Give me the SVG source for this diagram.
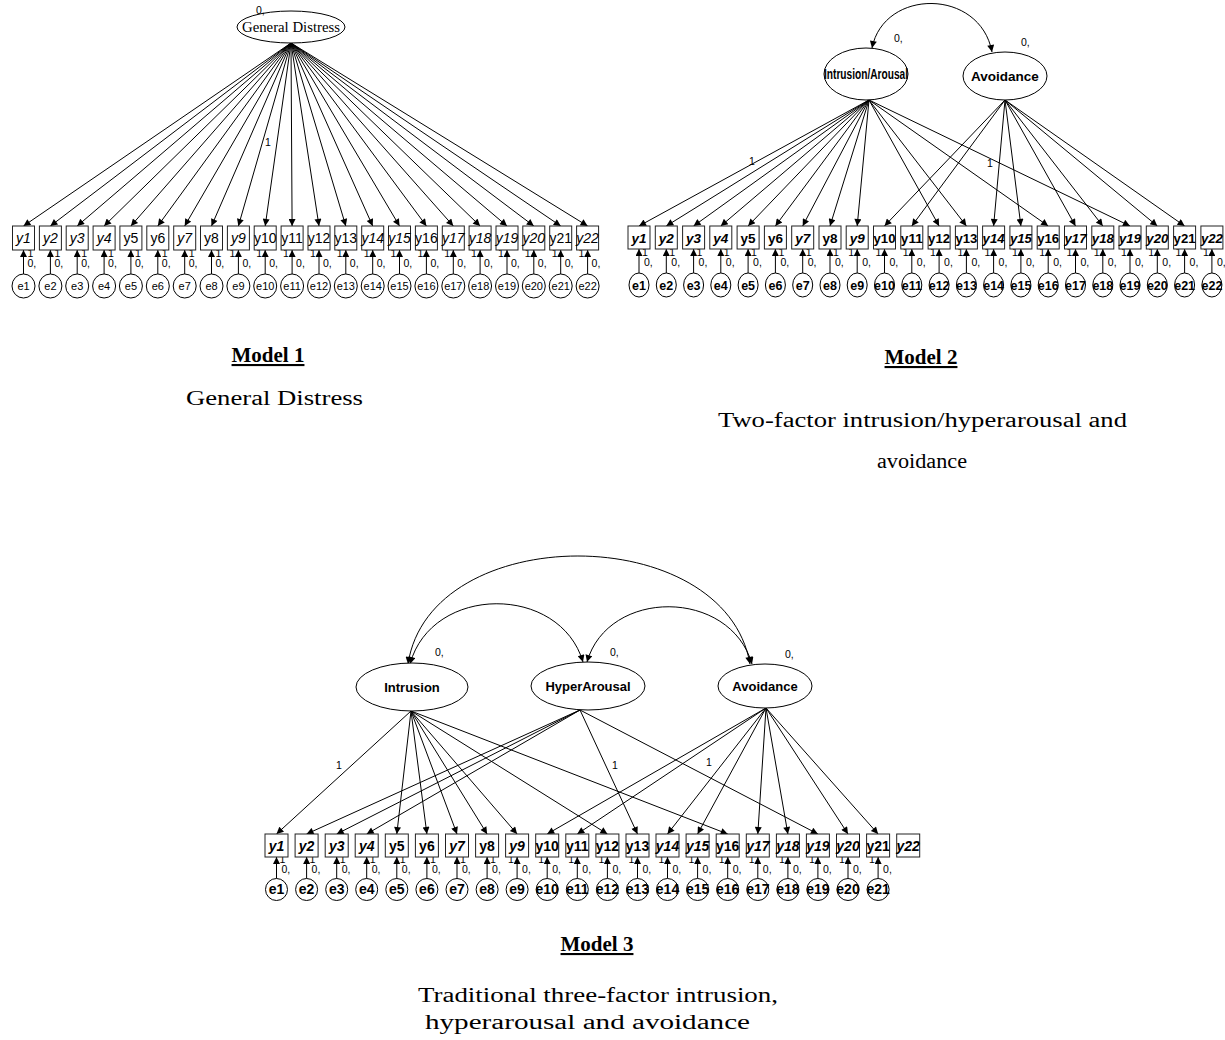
<svg xmlns="http://www.w3.org/2000/svg" width="1225" height="1040" viewBox="0 0 1225 1040">
<defs>
<marker id="ah" viewBox="0 0 10 10" refX="10" refY="5" markerWidth="9" markerHeight="7" orient="auto-start-reverse" markerUnits="userSpaceOnUse"><path d="M0,0 L10,5 L0,10 z" fill="#000"/></marker>
<style>
.bx{fill:#fff;stroke:#222;stroke-width:1}
.el{fill:#fff;stroke:#000;stroke-width:1}
.c{stroke:#000;stroke-width:1;fill:none;marker-end:url(#ah)}
.cc{stroke:#000;stroke-width:1;fill:none;marker-end:url(#ah);marker-start:url(#ah)}
text{font-family:"Liberation Sans",Arial,sans-serif;fill:#000}
.m1 text{font-size:14px;text-anchor:middle}
.m1e text{font-size:11px;text-anchor:middle}
.m2 text{font-size:13.5px;font-weight:bold;text-anchor:middle}
.m2 .ee{font-size:12.5px}
.m3 text{font-size:14px;font-weight:bold;text-anchor:middle}
.it{font-style:italic}
.s{font-size:10.5px}
.lt{font-size:13px;font-weight:bold;text-anchor:middle}
.cap{font-family:"Liberation Serif","Times New Roman",serif;font-size:20px}
.ttl{font-family:"Liberation Serif","Times New Roman",serif;font-size:21px;font-weight:bold;text-decoration:underline;text-anchor:middle}
</style>
</defs>
<rect width="1225" height="1040" fill="#fff"/>

<!-- ================= MODEL 1 ================= -->
<g id="m1-connectors">
<line class="c" x1="291" y1="43" x2="23.5" y2="226"/>
<line class="c" x1="291" y1="43" x2="50.4" y2="226"/>
<line class="c" x1="291" y1="43" x2="77.2" y2="226"/>
<line class="c" x1="291" y1="43" x2="104.1" y2="226"/>
<line class="c" x1="291" y1="43" x2="130.9" y2="226"/>
<line class="c" x1="291" y1="43" x2="157.8" y2="226"/>
<line class="c" x1="291" y1="43" x2="184.7" y2="226"/>
<line class="c" x1="291" y1="43" x2="211.5" y2="226"/>
<line class="c" x1="291" y1="43" x2="238.4" y2="226"/>
<line class="c" x1="291" y1="43" x2="265.2" y2="226"/>
<line class="c" x1="291" y1="43" x2="292.1" y2="226"/>
<line class="c" x1="291" y1="43" x2="319" y2="226"/>
<line class="c" x1="291" y1="43" x2="345.8" y2="226"/>
<line class="c" x1="291" y1="43" x2="372.7" y2="226"/>
<line class="c" x1="291" y1="43" x2="399.5" y2="226"/>
<line class="c" x1="291" y1="43" x2="426.4" y2="226"/>
<line class="c" x1="291" y1="43" x2="453.3" y2="226"/>
<line class="c" x1="291" y1="43" x2="480.1" y2="226"/>
<line class="c" x1="291" y1="43" x2="507" y2="226"/>
<line class="c" x1="291" y1="43" x2="533.8" y2="226"/>
<line class="c" x1="291" y1="43" x2="560.7" y2="226"/>
<line class="c" x1="291" y1="43" x2="587.6" y2="226"/>
<text class="s" x="265" y="146">1</text>
<!-- error paths -->
<line class="c" x1="23.5" y1="274" x2="23.5" y2="250"/>
<line class="c" x1="50.4" y1="274" x2="50.4" y2="250"/>
<line class="c" x1="77.2" y1="274" x2="77.2" y2="250"/>
<line class="c" x1="104.1" y1="274" x2="104.1" y2="250"/>
<line class="c" x1="130.9" y1="274" x2="130.9" y2="250"/>
<line class="c" x1="157.8" y1="274" x2="157.8" y2="250"/>
<line class="c" x1="184.7" y1="274" x2="184.7" y2="250"/>
<line class="c" x1="211.5" y1="274" x2="211.5" y2="250"/>
<line class="c" x1="238.4" y1="274" x2="238.4" y2="250"/>
<line class="c" x1="265.2" y1="274" x2="265.2" y2="250"/>
<line class="c" x1="292.1" y1="274" x2="292.1" y2="250"/>
<line class="c" x1="319" y1="274" x2="319" y2="250"/>
<line class="c" x1="345.8" y1="274" x2="345.8" y2="250"/>
<line class="c" x1="372.7" y1="274" x2="372.7" y2="250"/>
<line class="c" x1="399.5" y1="274" x2="399.5" y2="250"/>
<line class="c" x1="426.4" y1="274" x2="426.4" y2="250"/>
<line class="c" x1="453.3" y1="274" x2="453.3" y2="250"/>
<line class="c" x1="480.1" y1="274" x2="480.1" y2="250"/>
<line class="c" x1="507" y1="274" x2="507" y2="250"/>
<line class="c" x1="533.8" y1="274" x2="533.8" y2="250"/>
<line class="c" x1="560.7" y1="274" x2="560.7" y2="250"/>
<line class="c" x1="587.6" y1="274" x2="587.6" y2="250"/>
<g class="s">
<text x="27.5" y="257">1</text><text x="54.4" y="257">1</text><text x="81.2" y="257">1</text><text x="108.1" y="257">1</text><text x="134.9" y="257">1</text><text x="161.8" y="257">1</text><text x="188.7" y="257">1</text><text x="215.5" y="257">1</text>
<text x="229.4" y="257">1</text><text x="256.2" y="257">1</text><text x="283.1" y="257">1</text><text x="310" y="257">1</text><text x="336.8" y="257">1</text><text x="363.7" y="257">1</text><text x="390.5" y="257">1</text><text x="417.4" y="257">1</text><text x="444.3" y="257">1</text><text x="471.1" y="257">1</text><text x="498" y="257">1</text><text x="524.8" y="257">1</text><text x="551.7" y="257">1</text><text x="578.6" y="257">1</text>
<text x="27.5" y="267">0,</text><text x="54.4" y="267">0,</text><text x="81.2" y="267">0,</text><text x="108.1" y="267">0,</text><text x="134.9" y="267">0,</text><text x="161.8" y="267">0,</text><text x="188.7" y="267">0,</text><text x="215.5" y="267">0,</text><text x="242.4" y="267">0,</text><text x="269.2" y="267">0,</text><text x="296.1" y="267">0,</text><text x="323" y="267">0,</text><text x="349.8" y="267">0,</text><text x="376.7" y="267">0,</text><text x="403.5" y="267">0,</text><text x="430.4" y="267">0,</text><text x="457.3" y="267">0,</text><text x="484.1" y="267">0,</text><text x="511" y="267">0,</text><text x="537.8" y="267">0,</text><text x="564.7" y="267">0,</text><text x="591.6" y="267">0,</text>
</g>
</g>

<g id="m1-general-distress">
<ellipse class="el" cx="291" cy="27" rx="54" ry="16"/>
<text x="291" y="32" style="font-family:'Liberation Serif','Times New Roman',serif;font-size:14px;text-anchor:middle" textLength="98" lengthAdjust="spacingAndGlyphs">General Distress</text>
<text class="s" x="256" y="14">0,</text>
</g>

<g class="m1">
<g id="m1-y1" transform="translate(23.5,226)"><rect class="bx" x="-11" width="22" height="24"/><text class="it" y="17">y1</text></g>
<g id="m1-y2" transform="translate(50.4,226)"><rect class="bx" x="-11" width="22" height="24"/><text class="it" y="17">y2</text></g>
<g id="m1-y3" transform="translate(77.2,226)"><rect class="bx" x="-11" width="22" height="24"/><text class="it" y="17">y3</text></g>
<g id="m1-y4" transform="translate(104.1,226)"><rect class="bx" x="-11" width="22" height="24"/><text class="it" y="17">y4</text></g>
<g id="m1-y5" transform="translate(130.9,226)"><rect class="bx" x="-11" width="22" height="24"/><text y="17">y5</text></g>
<g id="m1-y6" transform="translate(157.8,226)"><rect class="bx" x="-11" width="22" height="24"/><text y="17">y6</text></g>
<g id="m1-y7" transform="translate(184.7,226)"><rect class="bx" x="-11" width="22" height="24"/><text class="it" y="17">y7</text></g>
<g id="m1-y8" transform="translate(211.5,226)"><rect class="bx" x="-11" width="22" height="24"/><text y="17">y8</text></g>
<g id="m1-y9" transform="translate(238.4,226)"><rect class="bx" x="-11" width="22" height="24"/><text class="it" y="17">y9</text></g>
<g id="m1-y10" transform="translate(265.2,226)"><rect class="bx" x="-11" width="22" height="24"/><text y="17">y10</text></g>
<g id="m1-y11" transform="translate(292.1,226)"><rect class="bx" x="-11" width="22" height="24"/><text y="17">y11</text></g>
<g id="m1-y12" transform="translate(319,226)"><rect class="bx" x="-11" width="22" height="24"/><text y="17">y12</text></g>
<g id="m1-y13" transform="translate(345.8,226)"><rect class="bx" x="-11" width="22" height="24"/><text y="17">y13</text></g>
<g id="m1-y14" transform="translate(372.7,226)"><rect class="bx" x="-11" width="22" height="24"/><text class="it" y="17">y14</text></g>
<g id="m1-y15" transform="translate(399.5,226)"><rect class="bx" x="-11" width="22" height="24"/><text class="it" y="17">y15</text></g>
<g id="m1-y16" transform="translate(426.4,226)"><rect class="bx" x="-11" width="22" height="24"/><text y="17">y16</text></g>
<g id="m1-y17" transform="translate(453.3,226)"><rect class="bx" x="-11" width="22" height="24"/><text class="it" y="17">y17</text></g>
<g id="m1-y18" transform="translate(480.1,226)"><rect class="bx" x="-11" width="22" height="24"/><text class="it" y="17">y18</text></g>
<g id="m1-y19" transform="translate(507,226)"><rect class="bx" x="-11" width="22" height="24"/><text class="it" y="17">y19</text></g>
<g id="m1-y20" transform="translate(533.8,226)"><rect class="bx" x="-11" width="22" height="24"/><text class="it" y="17">y20</text></g>
<g id="m1-y21" transform="translate(560.7,226)"><rect class="bx" x="-11" width="22" height="24"/><text y="17">y21</text></g>
<g id="m1-y22" transform="translate(587.6,226)"><rect class="bx" x="-11" width="22" height="24"/><text class="it" y="17">y22</text></g>
</g>
<g class="m1e">
<g id="m1-e1" transform="translate(23.5,286)"><ellipse class="el" rx="11.5" ry="12"/><text y="4">e1</text></g>
<g id="m1-e2" transform="translate(50.4,286)"><ellipse class="el" rx="11.5" ry="12"/><text y="4">e2</text></g>
<g id="m1-e3" transform="translate(77.2,286)"><ellipse class="el" rx="11.5" ry="12"/><text y="4">e3</text></g>
<g id="m1-e4" transform="translate(104.1,286)"><ellipse class="el" rx="11.5" ry="12"/><text y="4">e4</text></g>
<g id="m1-e5" transform="translate(130.9,286)"><ellipse class="el" rx="11.5" ry="12"/><text y="4">e5</text></g>
<g id="m1-e6" transform="translate(157.8,286)"><ellipse class="el" rx="11.5" ry="12"/><text y="4">e6</text></g>
<g id="m1-e7" transform="translate(184.7,286)"><ellipse class="el" rx="11.5" ry="12"/><text y="4">e7</text></g>
<g id="m1-e8" transform="translate(211.5,286)"><ellipse class="el" rx="11.5" ry="12"/><text y="4">e8</text></g>
<g id="m1-e9" transform="translate(238.4,286)"><ellipse class="el" rx="11.5" ry="12"/><text y="4">e9</text></g>
<g id="m1-e10" transform="translate(265.2,286)"><ellipse class="el" rx="11.5" ry="12"/><text y="4">e10</text></g>
<g id="m1-e11" transform="translate(292.1,286)"><ellipse class="el" rx="11.5" ry="12"/><text y="4">e11</text></g>
<g id="m1-e12" transform="translate(319,286)"><ellipse class="el" rx="11.5" ry="12"/><text y="4">e12</text></g>
<g id="m1-e13" transform="translate(345.8,286)"><ellipse class="el" rx="11.5" ry="12"/><text y="4">e13</text></g>
<g id="m1-e14" transform="translate(372.7,286)"><ellipse class="el" rx="11.5" ry="12"/><text y="4">e14</text></g>
<g id="m1-e15" transform="translate(399.5,286)"><ellipse class="el" rx="11.5" ry="12"/><text y="4">e15</text></g>
<g id="m1-e16" transform="translate(426.4,286)"><ellipse class="el" rx="11.5" ry="12"/><text y="4">e16</text></g>
<g id="m1-e17" transform="translate(453.3,286)"><ellipse class="el" rx="11.5" ry="12"/><text y="4">e17</text></g>
<g id="m1-e18" transform="translate(480.1,286)"><ellipse class="el" rx="11.5" ry="12"/><text y="4">e18</text></g>
<g id="m1-e19" transform="translate(507,286)"><ellipse class="el" rx="11.5" ry="12"/><text y="4">e19</text></g>
<g id="m1-e20" transform="translate(533.8,286)"><ellipse class="el" rx="11.5" ry="12"/><text y="4">e20</text></g>
<g id="m1-e21" transform="translate(560.7,286)"><ellipse class="el" rx="11.5" ry="12"/><text y="4">e21</text></g>
<g id="m1-e22" transform="translate(587.6,286)"><ellipse class="el" rx="11.5" ry="12"/><text y="4">e22</text></g>
</g>

<!-- ================= MODEL 2 ================= -->
<g id="m2-connectors">
<path class="cc" d="M872,48 C884,-12 980,-12 992,52"/>
<line class="c" x1="869" y1="100" x2="639" y2="226"/>
<line class="c" x1="869" y1="100" x2="666.3" y2="226"/>
<line class="c" x1="869" y1="100" x2="693.6" y2="226"/>
<line class="c" x1="869" y1="100" x2="720.8" y2="226"/>
<line class="c" x1="869" y1="100" x2="748.1" y2="226"/>
<line class="c" x1="869" y1="100" x2="775.4" y2="226"/>
<line class="c" x1="869" y1="100" x2="802.7" y2="226"/>
<line class="c" x1="869" y1="100" x2="830" y2="226"/>
<line class="c" x1="869" y1="100" x2="857.2" y2="226"/>
<line class="c" x1="869" y1="100" x2="939.1" y2="226"/>
<line class="c" x1="869" y1="100" x2="966.4" y2="226"/>
<line class="c" x1="869" y1="100" x2="1048.2" y2="226"/>
<line class="c" x1="869" y1="100" x2="1130" y2="226"/>
<line class="c" x1="1005" y1="100" x2="884.5" y2="226"/>
<line class="c" x1="1005" y1="100" x2="911.8" y2="226"/>
<line class="c" x1="1005" y1="100" x2="993.6" y2="226"/>
<line class="c" x1="1005" y1="100" x2="1020.9" y2="226"/>
<line class="c" x1="1005" y1="100" x2="1075.5" y2="226"/>
<line class="c" x1="1005" y1="100" x2="1102.8" y2="226"/>
<line class="c" x1="1005" y1="100" x2="1157.3" y2="226"/>
<line class="c" x1="1005" y1="100" x2="1184.6" y2="226"/>
<text class="s" x="749" y="165">1</text>
<text class="s" x="987" y="167">1</text>
<line class="c" x1="639" y1="273" x2="639" y2="249"/>
<line class="c" x1="666.3" y1="273" x2="666.3" y2="249"/>
<line class="c" x1="693.6" y1="273" x2="693.6" y2="249"/>
<line class="c" x1="720.8" y1="273" x2="720.8" y2="249"/>
<line class="c" x1="748.1" y1="273" x2="748.1" y2="249"/>
<line class="c" x1="775.4" y1="273" x2="775.4" y2="249"/>
<line class="c" x1="802.7" y1="273" x2="802.7" y2="249"/>
<line class="c" x1="830" y1="273" x2="830" y2="249"/>
<line class="c" x1="857.2" y1="273" x2="857.2" y2="249"/>
<line class="c" x1="884.5" y1="273" x2="884.5" y2="249"/>
<line class="c" x1="911.8" y1="273" x2="911.8" y2="249"/>
<line class="c" x1="939.1" y1="273" x2="939.1" y2="249"/>
<line class="c" x1="966.4" y1="273" x2="966.4" y2="249"/>
<line class="c" x1="993.6" y1="273" x2="993.6" y2="249"/>
<line class="c" x1="1020.9" y1="273" x2="1020.9" y2="249"/>
<line class="c" x1="1048.2" y1="273" x2="1048.2" y2="249"/>
<line class="c" x1="1075.5" y1="273" x2="1075.5" y2="249"/>
<line class="c" x1="1102.8" y1="273" x2="1102.8" y2="249"/>
<line class="c" x1="1130" y1="273" x2="1130" y2="249"/>
<line class="c" x1="1157.3" y1="273" x2="1157.3" y2="249"/>
<line class="c" x1="1184.6" y1="273" x2="1184.6" y2="249"/>
<line class="c" x1="1211.9" y1="273" x2="1211.9" y2="249"/>
<g class="s">
<text x="642" y="256">1</text><text x="669.3" y="256">1</text><text x="696.6" y="256">1</text><text x="723.8" y="256">1</text><text x="751.1" y="256">1</text><text x="778.4" y="256">1</text><text x="805.7" y="256">1</text><text x="833" y="256">1</text>
<text x="848.2" y="256">1</text><text x="875.5" y="256">1</text><text x="902.8" y="256">1</text><text x="930.1" y="256">1</text><text x="957.4" y="256">1</text><text x="984.6" y="256">1</text><text x="1011.9" y="256">1</text><text x="1039.2" y="256">1</text><text x="1066.5" y="256">1</text><text x="1093.8" y="256">1</text><text x="1121" y="256">1</text><text x="1148.3" y="256">1</text><text x="1175.6" y="256">1</text><text x="1202.9" y="256">1</text>
<text x="644" y="266">0,</text><text x="671.3" y="266">0,</text><text x="698.6" y="266">0,</text><text x="725.8" y="266">0,</text><text x="753.1" y="266">0,</text><text x="780.4" y="266">0,</text><text x="807.7" y="266">0,</text><text x="835" y="266">0,</text><text x="862.2" y="266">0,</text><text x="889.5" y="266">0,</text><text x="916.8" y="266">0,</text><text x="944.1" y="266">0,</text><text x="971.4" y="266">0,</text><text x="998.6" y="266">0,</text><text x="1025.9" y="266">0,</text><text x="1053.2" y="266">0,</text><text x="1080.5" y="266">0,</text><text x="1107.8" y="266">0,</text><text x="1135" y="266">0,</text><text x="1162.3" y="266">0,</text><text x="1189.6" y="266">0,</text><text x="1216.9" y="266">0,</text>
</g>
</g>

<g id="m2-intrusion-arousal">
<ellipse class="el" cx="866" cy="74" rx="42" ry="26"/>
<text class="lt" x="866" y="79" style="font-size:14px" textLength="84" lengthAdjust="spacingAndGlyphs">Intrusion/Arousal</text>
<text class="s" x="894" y="42">0,</text>
</g>
<g id="m2-avoidance">
<ellipse class="el" cx="1005" cy="76" rx="42" ry="24"/>
<text class="lt" x="1005" y="81" style="font-size:13.5px">Avoidance</text>
<text class="s" x="1021" y="46">0,</text>
</g>

<g class="m2">
<g id="m2-y1" transform="translate(639,226)"><rect class="bx" x="-11" width="22" height="23"/><text class="it" y="17">y1</text></g>
<g id="m2-y2" transform="translate(666.3,226)"><rect class="bx" x="-11" width="22" height="23"/><text class="it" y="17">y2</text></g>
<g id="m2-y3" transform="translate(693.6,226)"><rect class="bx" x="-11" width="22" height="23"/><text class="it" y="17">y3</text></g>
<g id="m2-y4" transform="translate(720.8,226)"><rect class="bx" x="-11" width="22" height="23"/><text class="it" y="17">y4</text></g>
<g id="m2-y5" transform="translate(748.1,226)"><rect class="bx" x="-11" width="22" height="23"/><text y="17">y5</text></g>
<g id="m2-y6" transform="translate(775.4,226)"><rect class="bx" x="-11" width="22" height="23"/><text y="17">y6</text></g>
<g id="m2-y7" transform="translate(802.7,226)"><rect class="bx" x="-11" width="22" height="23"/><text class="it" y="17">y7</text></g>
<g id="m2-y8" transform="translate(830,226)"><rect class="bx" x="-11" width="22" height="23"/><text y="17">y8</text></g>
<g id="m2-y9" transform="translate(857.2,226)"><rect class="bx" x="-11" width="22" height="23"/><text class="it" y="17">y9</text></g>
<g id="m2-y10" transform="translate(884.5,226)"><rect class="bx" x="-11" width="22" height="23"/><text y="17" textLength="22" lengthAdjust="spacingAndGlyphs">y10</text></g>
<g id="m2-y11" transform="translate(911.8,226)"><rect class="bx" x="-11" width="22" height="23"/><text y="17" textLength="22" lengthAdjust="spacingAndGlyphs">y11</text></g>
<g id="m2-y12" transform="translate(939.1,226)"><rect class="bx" x="-11" width="22" height="23"/><text y="17" textLength="22" lengthAdjust="spacingAndGlyphs">y12</text></g>
<g id="m2-y13" transform="translate(966.4,226)"><rect class="bx" x="-11" width="22" height="23"/><text y="17" textLength="22" lengthAdjust="spacingAndGlyphs">y13</text></g>
<g id="m2-y14" transform="translate(993.6,226)"><rect class="bx" x="-11" width="22" height="23"/><text class="it" y="17" textLength="22" lengthAdjust="spacingAndGlyphs">y14</text></g>
<g id="m2-y15" transform="translate(1020.9,226)"><rect class="bx" x="-11" width="22" height="23"/><text class="it" y="17" textLength="22" lengthAdjust="spacingAndGlyphs">y15</text></g>
<g id="m2-y16" transform="translate(1048.2,226)"><rect class="bx" x="-11" width="22" height="23"/><text y="17" textLength="22" lengthAdjust="spacingAndGlyphs">y16</text></g>
<g id="m2-y17" transform="translate(1075.5,226)"><rect class="bx" x="-11" width="22" height="23"/><text class="it" y="17" textLength="22" lengthAdjust="spacingAndGlyphs">y17</text></g>
<g id="m2-y18" transform="translate(1102.8,226)"><rect class="bx" x="-11" width="22" height="23"/><text class="it" y="17" textLength="22" lengthAdjust="spacingAndGlyphs">y18</text></g>
<g id="m2-y19" transform="translate(1130,226)"><rect class="bx" x="-11" width="22" height="23"/><text class="it" y="17" textLength="22" lengthAdjust="spacingAndGlyphs">y19</text></g>
<g id="m2-y20" transform="translate(1157.3,226)"><rect class="bx" x="-11" width="22" height="23"/><text class="it" y="17" textLength="22" lengthAdjust="spacingAndGlyphs">y20</text></g>
<g id="m2-y21" transform="translate(1184.6,226)"><rect class="bx" x="-11" width="22" height="23"/><text y="17" textLength="22" lengthAdjust="spacingAndGlyphs">y21</text></g>
<g id="m2-y22" transform="translate(1211.9,226)"><rect class="bx" x="-11" width="22" height="23"/><text class="it" y="17" textLength="22" lengthAdjust="spacingAndGlyphs">y22</text></g>
<g id="m2-e1" transform="translate(639,285)"><ellipse class="el" rx="10" ry="12"/><text class="ee" y="4.5">e1</text></g>
<g id="m2-e2" transform="translate(666.3,285)"><ellipse class="el" rx="10" ry="12"/><text class="ee" y="4.5">e2</text></g>
<g id="m2-e3" transform="translate(693.6,285)"><ellipse class="el" rx="10" ry="12"/><text class="ee" y="4.5">e3</text></g>
<g id="m2-e4" transform="translate(720.8,285)"><ellipse class="el" rx="10" ry="12"/><text class="ee" y="4.5">e4</text></g>
<g id="m2-e5" transform="translate(748.1,285)"><ellipse class="el" rx="10" ry="12"/><text class="ee" y="4.5">e5</text></g>
<g id="m2-e6" transform="translate(775.4,285)"><ellipse class="el" rx="10" ry="12"/><text class="ee" y="4.5">e6</text></g>
<g id="m2-e7" transform="translate(802.7,285)"><ellipse class="el" rx="10" ry="12"/><text class="ee" y="4.5">e7</text></g>
<g id="m2-e8" transform="translate(830,285)"><ellipse class="el" rx="10" ry="12"/><text class="ee" y="4.5">e8</text></g>
<g id="m2-e9" transform="translate(857.2,285)"><ellipse class="el" rx="10" ry="12"/><text class="ee" y="4.5">e9</text></g>
<g id="m2-e10" transform="translate(884.5,285)"><ellipse class="el" rx="10" ry="12"/><text class="ee" y="4.5">e10</text></g>
<g id="m2-e11" transform="translate(911.8,285)"><ellipse class="el" rx="10" ry="12"/><text class="ee" y="4.5">e11</text></g>
<g id="m2-e12" transform="translate(939.1,285)"><ellipse class="el" rx="10" ry="12"/><text class="ee" y="4.5">e12</text></g>
<g id="m2-e13" transform="translate(966.4,285)"><ellipse class="el" rx="10" ry="12"/><text class="ee" y="4.5">e13</text></g>
<g id="m2-e14" transform="translate(993.6,285)"><ellipse class="el" rx="10" ry="12"/><text class="ee" y="4.5">e14</text></g>
<g id="m2-e15" transform="translate(1020.9,285)"><ellipse class="el" rx="10" ry="12"/><text class="ee" y="4.5">e15</text></g>
<g id="m2-e16" transform="translate(1048.2,285)"><ellipse class="el" rx="10" ry="12"/><text class="ee" y="4.5">e16</text></g>
<g id="m2-e17" transform="translate(1075.5,285)"><ellipse class="el" rx="10" ry="12"/><text class="ee" y="4.5">e17</text></g>
<g id="m2-e18" transform="translate(1102.8,285)"><ellipse class="el" rx="10" ry="12"/><text class="ee" y="4.5">e18</text></g>
<g id="m2-e19" transform="translate(1130,285)"><ellipse class="el" rx="10" ry="12"/><text class="ee" y="4.5">e19</text></g>
<g id="m2-e20" transform="translate(1157.3,285)"><ellipse class="el" rx="10" ry="12"/><text class="ee" y="4.5">e20</text></g>
<g id="m2-e21" transform="translate(1184.6,285)"><ellipse class="el" rx="10" ry="12"/><text class="ee" y="4.5">e21</text></g>
<g id="m2-e22" transform="translate(1211.9,285)"><ellipse class="el" rx="10" ry="12"/><text class="ee" y="4.5">e22</text></g>
</g>

<!-- ================= MODEL 3 ================= -->
<g id="m3-connectors">
<path class="cc" d="M408,664 C430,520 725,520 750,664"/>
<path class="cc" d="M410,664 C432,584 560,584 583,662"/>
<path class="cc" d="M587,662 C608,588 730,588 752,664"/>
<line class="c" x1="411" y1="711" x2="276.5" y2="834"/>
<line class="c" x1="411" y1="711" x2="396.8" y2="834"/>
<line class="c" x1="411" y1="711" x2="426.9" y2="834"/>
<line class="c" x1="411" y1="711" x2="457" y2="834"/>
<line class="c" x1="411" y1="711" x2="487.1" y2="834"/>
<line class="c" x1="411" y1="711" x2="517.1" y2="834"/>
<line class="c" x1="411" y1="711" x2="607.4" y2="834"/>
<line class="c" x1="411" y1="711" x2="727.7" y2="834"/>
<line class="c" x1="580" y1="710" x2="306.6" y2="834"/>
<line class="c" x1="580" y1="710" x2="336.7" y2="834"/>
<line class="c" x1="580" y1="710" x2="366.7" y2="834"/>
<line class="c" x1="580" y1="710" x2="637.5" y2="834"/>
<line class="c" x1="580" y1="710" x2="817.9" y2="834"/>
<line class="c" x1="766" y1="708" x2="547.2" y2="834"/>
<line class="c" x1="766" y1="708" x2="577.3" y2="834"/>
<line class="c" x1="766" y1="708" x2="667.5" y2="834"/>
<line class="c" x1="766" y1="708" x2="697.6" y2="834"/>
<line class="c" x1="766" y1="708" x2="757.8" y2="834"/>
<line class="c" x1="766" y1="708" x2="787.9" y2="834"/>
<line class="c" x1="766" y1="708" x2="848" y2="834"/>
<line class="c" x1="766" y1="708" x2="878.1" y2="834"/>
<text class="s" x="336" y="769">1</text>
<text class="s" x="612" y="769">1</text>
<text class="s" x="706" y="766">1</text>
<line class="c" x1="276.5" y1="878.5" x2="276.5" y2="857"/>
<line class="c" x1="306.6" y1="878.5" x2="306.6" y2="857"/>
<line class="c" x1="336.7" y1="878.5" x2="336.7" y2="857"/>
<line class="c" x1="366.7" y1="878.5" x2="366.7" y2="857"/>
<line class="c" x1="396.8" y1="878.5" x2="396.8" y2="857"/>
<line class="c" x1="426.9" y1="878.5" x2="426.9" y2="857"/>
<line class="c" x1="457" y1="878.5" x2="457" y2="857"/>
<line class="c" x1="487.1" y1="878.5" x2="487.1" y2="857"/>
<line class="c" x1="517.1" y1="878.5" x2="517.1" y2="857"/>
<line class="c" x1="547.2" y1="878.5" x2="547.2" y2="857"/>
<line class="c" x1="577.3" y1="878.5" x2="577.3" y2="857"/>
<line class="c" x1="607.4" y1="878.5" x2="607.4" y2="857"/>
<line class="c" x1="637.5" y1="878.5" x2="637.5" y2="857"/>
<line class="c" x1="667.5" y1="878.5" x2="667.5" y2="857"/>
<line class="c" x1="697.6" y1="878.5" x2="697.6" y2="857"/>
<line class="c" x1="727.7" y1="878.5" x2="727.7" y2="857"/>
<line class="c" x1="757.8" y1="878.5" x2="757.8" y2="857"/>
<line class="c" x1="787.9" y1="878.5" x2="787.9" y2="857"/>
<line class="c" x1="817.9" y1="878.5" x2="817.9" y2="857"/>
<line class="c" x1="848" y1="878.5" x2="848" y2="857"/>
<line class="c" x1="878.1" y1="878.5" x2="878.1" y2="857"/>
<g class="s">
<text x="279.5" y="863">1</text><text x="309.6" y="863">1</text><text x="339.7" y="863">1</text><text x="369.7" y="863">1</text><text x="399.8" y="863">1</text><text x="429.9" y="863">1</text><text x="460" y="863">1</text><text x="490.1" y="863">1</text>
<text x="508.1" y="863">1</text><text x="538.2" y="863">1</text><text x="568.3" y="863">1</text><text x="598.4" y="863">1</text><text x="628.5" y="863">1</text><text x="658.5" y="863">1</text><text x="688.6" y="863">1</text><text x="718.7" y="863">1</text><text x="748.8" y="863">1</text><text x="778.9" y="863">1</text><text x="808.9" y="863">1</text><text x="839" y="863">1</text><text x="869.1" y="863">1</text>
<text x="281.5" y="873">0,</text><text x="311.6" y="873">0,</text><text x="341.7" y="873">0,</text><text x="371.7" y="873">0,</text><text x="401.8" y="873">0,</text><text x="431.9" y="873">0,</text><text x="462" y="873">0,</text><text x="492.1" y="873">0,</text><text x="522.1" y="873">0,</text><text x="552.2" y="873">0,</text><text x="582.3" y="873">0,</text><text x="612.4" y="873">0,</text><text x="642.5" y="873">0,</text><text x="672.5" y="873">0,</text><text x="702.6" y="873">0,</text><text x="732.7" y="873">0,</text><text x="762.8" y="873">0,</text><text x="792.9" y="873">0,</text><text x="822.9" y="873">0,</text><text x="853" y="873">0,</text><text x="883.1" y="873">0,</text>
</g>
</g>

<g id="m3-intrusion">
<ellipse class="el" cx="412" cy="687" rx="56" ry="24"/>
<text class="lt" x="412" y="692">Intrusion</text>
<text class="s" x="435" y="656">0,</text>
</g>
<g id="m3-hyperarousal">
<ellipse class="el" cx="588" cy="686" rx="57" ry="24"/>
<text class="lt" x="588" y="691">HyperArousal</text>
<text class="s" x="610" y="656">0,</text>
</g>
<g id="m3-avoidance">
<ellipse class="el" cx="765" cy="686" rx="47" ry="22"/>
<text class="lt" x="765" y="691">Avoidance</text>
<text class="s" x="785" y="658">0,</text>
</g>

<g class="m3">
<g id="m3-y1" transform="translate(276.5,834)"><rect class="bx" x="-11.5" width="23" height="23"/><text class="it" y="17">y1</text></g>
<g id="m3-y2" transform="translate(306.6,834)"><rect class="bx" x="-11.5" width="23" height="23"/><text class="it" y="17">y2</text></g>
<g id="m3-y3" transform="translate(336.7,834)"><rect class="bx" x="-11.5" width="23" height="23"/><text class="it" y="17">y3</text></g>
<g id="m3-y4" transform="translate(366.7,834)"><rect class="bx" x="-11.5" width="23" height="23"/><text class="it" y="17">y4</text></g>
<g id="m3-y5" transform="translate(396.8,834)"><rect class="bx" x="-11.5" width="23" height="23"/><text y="17">y5</text></g>
<g id="m3-y6" transform="translate(426.9,834)"><rect class="bx" x="-11.5" width="23" height="23"/><text y="17">y6</text></g>
<g id="m3-y7" transform="translate(457,834)"><rect class="bx" x="-11.5" width="23" height="23"/><text class="it" y="17">y7</text></g>
<g id="m3-y8" transform="translate(487.1,834)"><rect class="bx" x="-11.5" width="23" height="23"/><text y="17">y8</text></g>
<g id="m3-y9" transform="translate(517.1,834)"><rect class="bx" x="-11.5" width="23" height="23"/><text class="it" y="17">y9</text></g>
<g id="m3-y10" transform="translate(547.2,834)"><rect class="bx" x="-11.5" width="23" height="23"/><text y="17">y10</text></g>
<g id="m3-y11" transform="translate(577.3,834)"><rect class="bx" x="-11.5" width="23" height="23"/><text y="17">y11</text></g>
<g id="m3-y12" transform="translate(607.4,834)"><rect class="bx" x="-11.5" width="23" height="23"/><text y="17">y12</text></g>
<g id="m3-y13" transform="translate(637.5,834)"><rect class="bx" x="-11.5" width="23" height="23"/><text y="17">y13</text></g>
<g id="m3-y14" transform="translate(667.5,834)"><rect class="bx" x="-11.5" width="23" height="23"/><text class="it" y="17">y14</text></g>
<g id="m3-y15" transform="translate(697.6,834)"><rect class="bx" x="-11.5" width="23" height="23"/><text class="it" y="17">y15</text></g>
<g id="m3-y16" transform="translate(727.7,834)"><rect class="bx" x="-11.5" width="23" height="23"/><text y="17">y16</text></g>
<g id="m3-y17" transform="translate(757.8,834)"><rect class="bx" x="-11.5" width="23" height="23"/><text class="it" y="17">y17</text></g>
<g id="m3-y18" transform="translate(787.9,834)"><rect class="bx" x="-11.5" width="23" height="23"/><text class="it" y="17">y18</text></g>
<g id="m3-y19" transform="translate(817.9,834)"><rect class="bx" x="-11.5" width="23" height="23"/><text class="it" y="17">y19</text></g>
<g id="m3-y20" transform="translate(848,834)"><rect class="bx" x="-11.5" width="23" height="23"/><text class="it" y="17">y20</text></g>
<g id="m3-y21" transform="translate(878.1,834)"><rect class="bx" x="-11.5" width="23" height="23"/><text y="17">y21</text></g>
<g id="m3-y22" transform="translate(908.2,834)"><rect class="bx" x="-11.5" width="23" height="23"/><text class="it" y="17">y22</text></g>
<g id="m3-e1" transform="translate(276.5,889.5)"><ellipse class="el" rx="11" ry="11"/><text y="4.5">e1</text></g>
<g id="m3-e2" transform="translate(306.6,889.5)"><ellipse class="el" rx="11" ry="11"/><text y="4.5">e2</text></g>
<g id="m3-e3" transform="translate(336.7,889.5)"><ellipse class="el" rx="11" ry="11"/><text y="4.5">e3</text></g>
<g id="m3-e4" transform="translate(366.7,889.5)"><ellipse class="el" rx="11" ry="11"/><text y="4.5">e4</text></g>
<g id="m3-e5" transform="translate(396.8,889.5)"><ellipse class="el" rx="11" ry="11"/><text y="4.5">e5</text></g>
<g id="m3-e6" transform="translate(426.9,889.5)"><ellipse class="el" rx="11" ry="11"/><text y="4.5">e6</text></g>
<g id="m3-e7" transform="translate(457,889.5)"><ellipse class="el" rx="11" ry="11"/><text y="4.5">e7</text></g>
<g id="m3-e8" transform="translate(487.1,889.5)"><ellipse class="el" rx="11" ry="11"/><text y="4.5">e8</text></g>
<g id="m3-e9" transform="translate(517.1,889.5)"><ellipse class="el" rx="11" ry="11"/><text y="4.5">e9</text></g>
<g id="m3-e10" transform="translate(547.2,889.5)"><ellipse class="el" rx="11" ry="11"/><text y="4.5">e10</text></g>
<g id="m3-e11" transform="translate(577.3,889.5)"><ellipse class="el" rx="11" ry="11"/><text y="4.5">e11</text></g>
<g id="m3-e12" transform="translate(607.4,889.5)"><ellipse class="el" rx="11" ry="11"/><text y="4.5">e12</text></g>
<g id="m3-e13" transform="translate(637.5,889.5)"><ellipse class="el" rx="11" ry="11"/><text y="4.5">e13</text></g>
<g id="m3-e14" transform="translate(667.5,889.5)"><ellipse class="el" rx="11" ry="11"/><text y="4.5">e14</text></g>
<g id="m3-e15" transform="translate(697.6,889.5)"><ellipse class="el" rx="11" ry="11"/><text y="4.5">e15</text></g>
<g id="m3-e16" transform="translate(727.7,889.5)"><ellipse class="el" rx="11" ry="11"/><text y="4.5">e16</text></g>
<g id="m3-e17" transform="translate(757.8,889.5)"><ellipse class="el" rx="11" ry="11"/><text y="4.5">e17</text></g>
<g id="m3-e18" transform="translate(787.9,889.5)"><ellipse class="el" rx="11" ry="11"/><text y="4.5">e18</text></g>
<g id="m3-e19" transform="translate(817.9,889.5)"><ellipse class="el" rx="11" ry="11"/><text y="4.5">e19</text></g>
<g id="m3-e20" transform="translate(848,889.5)"><ellipse class="el" rx="11" ry="11"/><text y="4.5">e20</text></g>
<g id="m3-e21" transform="translate(878.1,889.5)"><ellipse class="el" rx="11" ry="11"/><text y="4.5">e21</text></g>
</g>

<!-- ================= CAPTIONS ================= -->
<g id="captions">
<text class="ttl" x="268" y="362">Model 1</text>
<text class="cap" x="186" y="405" textLength="177" lengthAdjust="spacingAndGlyphs">General Distress</text>
<text class="ttl" x="921" y="364">Model 2</text>
<text class="cap" x="718" y="427" textLength="409" lengthAdjust="spacingAndGlyphs">Two-factor intrusion/hyperarousal and</text>
<text class="cap" x="877" y="468" textLength="90" lengthAdjust="spacingAndGlyphs">avoidance</text>
<text class="ttl" x="597" y="951">Model 3</text>
<text class="cap" x="418" y="1002" textLength="360" lengthAdjust="spacingAndGlyphs">Traditional three-factor intrusion,</text>
<text class="cap" x="425" y="1029" textLength="325" lengthAdjust="spacingAndGlyphs">hyperarousal and avoidance</text>
</g>
</svg>
